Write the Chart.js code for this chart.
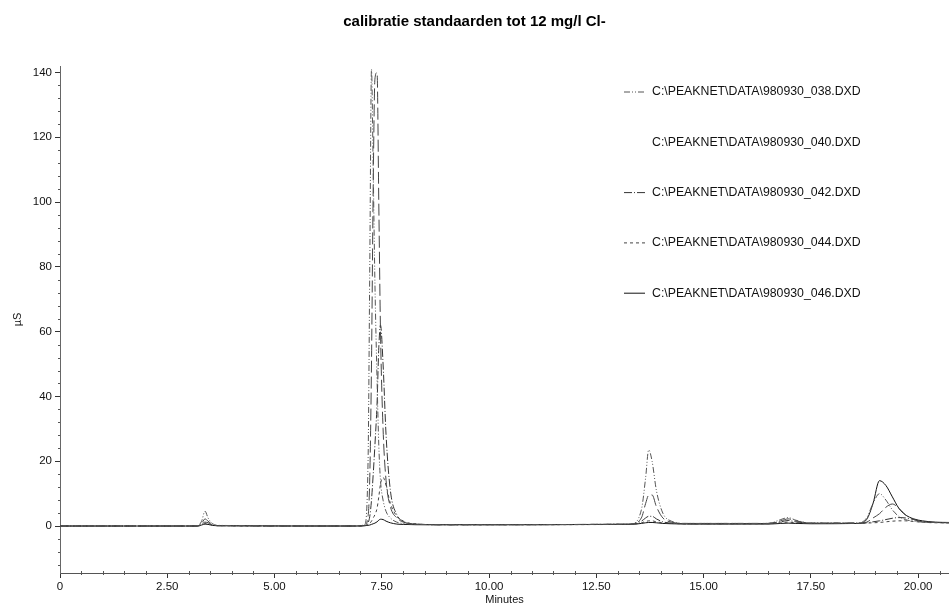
<!DOCTYPE html>
<html>
<head>
<meta charset="utf-8">
<script src="https://cdn.jsdelivr.net/npm/chart.js@4"></script>
<style>
  html, body { margin: 0; padding: 0; background: #fff; }
  #wrap { width: 949px; height: 608px; position: relative; }
</style>
</head>
<body>
<div id="wrap"><canvas id="chromChart"></canvas></div>
<script>
// --- data ---
const times = [0, 3.2, 3.3, 3.38, 3.45, 3.55, 3.7, 6.9, 7.1, 7.18, 7.22, 7.26, 7.3, 7.34, 7.39, 7.43, 7.47, 7.53, 7.6, 7.7, 7.85, 8.0, 8.3, 9.0,
  13.3, 13.55, 13.65, 13.72, 13.8, 13.9, 14.05, 14.25, 14.6, 16.5, 16.8, 16.97, 17.15, 17.5,
  18.6, 18.8, 18.95, 19.1, 19.25, 19.4, 19.55, 19.7, 19.9, 20.1, 20.4, 20.72];

const run038 = [0, 0, 1.5, 4.6, 2.5, 0.8, 0.2, 0, 0.5, 20, 80, 141, 110, 75, 45, 25, 14, 8, 4.5, 2.5, 1.2, 0.8, 0.5, 0.4,
  0.6, 5, 15, 23.5, 20, 11, 4, 1.5, 0.8, 0.8, 2, 2.6, 1.8, 0.9,
  0.9, 2.5, 7, 10, 8, 5, 3, 2, 1.5, 1.2, 1.1, 1.0];
const run040 = [0, 0, 0.8, 2.2, 1.5, 0.5, 0.1, 0, 0.2, 3, 15, 50, 105, 138, 140, 100, 60, 30, 14, 6, 2.5, 1.2, 0.6, 0.4,
  0.6, 2.5, 7, 9.5, 9.6, 6, 2.5, 1.2, 0.8, 0.8, 1.6, 2.2, 1.6, 0.9,
  0.9, 1.2, 2.5, 3.8, 5.8, 6.8, 5.5, 3.5, 2, 1.3, 1.1, 1.0];
const run042 = [0, 0, 0.5, 1.2, 1, 0.4, 0.1, 0, 0.1, 1, 3, 8, 16, 25, 38, 55, 62, 50, 28, 11, 3.5, 1.5, 0.6, 0.4,
  0.6, 1.5, 2.5, 3, 3, 2.2, 1.3, 0.9, 0.7, 0.8, 1.3, 1.7, 1.3, 0.9,
  0.9, 1.0, 1.3, 1.6, 2, 2.4, 2.6, 2.5, 2, 1.4, 1.1, 1.0];
const run044 = [0, 0, 0.3, 0.8, 0.7, 0.3, 0.1, 0, 0.1, 0.4, 0.8, 1.5, 2.5, 3.5, 5.5, 9, 13, 15, 12.5, 7, 3, 1.5, 0.6, 0.4,
  0.5, 1, 1.4, 1.6, 1.6, 1.3, 1, 0.8, 0.7, 0.7, 1, 1.2, 1, 0.8,
  0.8, 0.9, 1, 1.1, 1.3, 1.5, 1.6, 1.6, 1.4, 1.2, 1.0, 1.0];
const run046 = [0, 0, 0.3, 0.6, 0.5, 0.2, 0.1, 0, 0.1, 0.2, 0.3, 0.5, 0.7, 0.9, 1.3, 1.8, 2.1, 2, 1.5, 1, 0.6, 0.5, 0.4, 0.4,
  0.5, 0.8, 1, 1.1, 1.1, 1, 0.8, 0.7, 0.6, 0.6, 0.8, 0.9, 0.8, 0.7,
  0.8, 2, 7, 14, 12.5, 9, 5.5, 3.5, 2.2, 1.6, 1.2, 1.1];

const runNames = [
  'C:\\PEAKNET\\DATA\\980930_038.DXD',
  'C:\\PEAKNET\\DATA\\980930_040.DXD',
  'C:\\PEAKNET\\DATA\\980930_042.DXD',
  'C:\\PEAKNET\\DATA\\980930_044.DXD',
  'C:\\PEAKNET\\DATA\\980930_046.DXD'
];
const xTicks = [0, 2.5, 5, 7.5, 10, 12.5, 15, 17.5, 20];
const yTicks = [0, 20, 40, 60, 80, 100, 120, 140];

// line looks per run (the 040 sample did not print in the legend)
const lineStyles = [
  { color: '#555', dash: [6, 2, 1, 2, 1, 2], sample: true },
  { color: '#444', dash: [12, 4], sample: false },
  { color: '#333', dash: [8, 2, 1, 2], sample: true },
  { color: '#444', dash: [3, 3], sample: true },
  { color: '#111', dash: [], sample: true }
];

const runs = [run038, run040, run042, run044, run046];

const datasets = runs.map((vals, i) => ({
  label: runNames[i],
  data: times.map((t, k) => ({ x: t, y: vals[k] })),
  borderColor: lineStyles[i].color,
  borderDash: lineStyles[i].dash,
  borderWidth: 1,
  pointRadius: 0,
  fill: false,
  cubicInterpolationMode: 'monotone'
}));

const FONT = '"Liberation Sans", Arial, sans-serif';

// legend drawn in the upper right of the plot, like the printout
const sideLegend = {
  id: 'sideLegend',
  afterDraw(chart) {
    const ctx = chart.ctx;
    ctx.save();
    ctx.font = '12.3px ' + FONT;
    ctx.textBaseline = 'middle';
    ctx.fillStyle = '#111';
    chart.data.datasets.forEach((ds, i) => {
      const y = 92 + i * 50.3;
      if (lineStyles[i].sample) {
        ctx.beginPath();
        ctx.setLineDash(ds.borderDash);
        ctx.strokeStyle = ds.borderColor;
        ctx.lineWidth = 1;
        ctx.moveTo(624, y);
        ctx.lineTo(645, y);
        ctx.stroke();
        ctx.setLineDash([]);
      }
      ctx.fillText(ds.label, 652, y);
    });
    ctx.restore();
  }
};

// small minor ticks along both axes
const minorTicks = {
  id: 'minorTicks',
  afterDraw(chart) {
    const ctx = chart.ctx;
    const xs = chart.scales.x, ys = chart.scales.y;
    ctx.save();
    ctx.strokeStyle = '#555';
    ctx.lineWidth = 1;
    ctx.beginPath();
    for (let v = -12; v <= 140; v += 4) {
      if (v % 20 === 0) continue;
      const py = Math.round(ys.getPixelForValue(v)) + 0.5;
      ctx.moveTo(xs.left - 2, py);
      ctx.lineTo(xs.left, py);
    }
    for (let v = 0.5; v <= 20.7; v += 0.5) {
      if (Math.abs(v / 2.5 - Math.round(v / 2.5)) < 1e-6) continue;
      const px = Math.round(xs.getPixelForValue(v)) + 0.5;
      ctx.moveTo(px, ys.bottom - 2);
      ctx.lineTo(px, ys.bottom + 2);
    }
    ctx.stroke();
    ctx.restore();
  }
};

const ctx = document.getElementById('chromChart').getContext('2d');
new Chart(ctx, {
  type: 'line',
  data: { datasets: datasets },
  options: {
    responsive: true,
    maintainAspectRatio: false,
    animation: false,
    layout: { padding: { left: 0, right: 0, top: 0, bottom: 0 } },
    scales: {
      x: {
        type: 'linear',
        min: 0,
        max: 20.72,
        afterBuildTicks: (axis) => { axis.ticks = xTicks.map(v => ({ value: v })); },
        afterFit: (axis) => { axis.height = 35; },
        ticks: {
          maxRotation: 0,
          autoSkip: false,
          padding: 2,
          color: '#111',
          font: { family: FONT, size: 11.5 },
          callback: (v) => v === 0 ? '0' : v.toFixed(2)
        },
        grid: { drawOnChartArea: false, drawTicks: true, tickLength: 5, color: '#333' },
        border: { display: true, color: '#555', dash: [3, 2] },
        title: {
          display: true,
          text: 'Minutes',
          color: '#111',
          padding: { top: 0, bottom: 1 },
          font: { family: FONT, size: 11 }
        }
      },
      y: {
        min: -14.5,
        max: 142,
        afterBuildTicks: (axis) => { axis.ticks = yTicks.map(v => ({ value: v })); },
        afterFit: (axis) => { axis.width = 60; },
        ticks: {
          padding: 3,
          color: '#111',
          font: { family: FONT, size: 11.5 }
        },
        grid: { drawOnChartArea: false, drawTicks: true, tickLength: 5, color: '#333' },
        border: { display: true, color: '#666', dash: [2, 3] },
        title: {
          display: true,
          text: 'µS',
          color: '#111',
          padding: { top: 11, bottom: 0 },
          font: { family: FONT, size: 11 }
        }
      }
    },
    plugins: {
      legend: { display: false },
      tooltip: { enabled: false },
      title: {
        display: true,
        text: 'calibratie standaarden tot 12 mg/l Cl-',
        color: '#000',
        padding: { top: 13, bottom: 35 },
        font: { family: FONT, size: 15, weight: 'bold' }
      }
    }
  },
  plugins: [sideLegend, minorTicks]
});
</script>
</body>
</html>
